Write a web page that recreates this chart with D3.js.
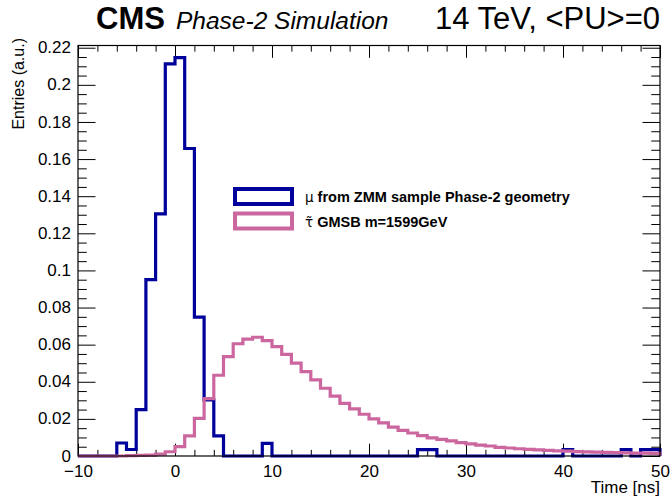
<!DOCTYPE html>
<html><head><meta charset="utf-8">
<script src="https://cdn.jsdelivr.net/npm/d3@7"></script>
<style>
body{margin:0;background:#fff}
svg{display:block}
text{font-family:"Liberation Sans",Arial,Helvetica,sans-serif}
</style>
</head><body>
<svg id="c" width="672" height="497"></svg>
<script>
// ---- data ----
const binLowEdges = d3.range(-10, 50); // 1 ns bins, -10 .. 50
const muValues = [
  0, 0, 0, 0, 0.007, 0.0035, 0.025, 0.095, 0.1305, 0.2113,
  0.2147, 0.1657, 0.0748, 0.0302, 0.0108, 0, 0, 0, 0, 0.0068,
  0, 0, 0, 0, 0, 0, 0, 0, 0, 0,
  0, 0, 0, 0, 0, 0.0034, 0.0034, 0, 0, 0,
  0, 0, 0, 0, 0, 0, 0, 0, 0, 0,
  0.0034, 0, 0, 0, 0, 0, 0.0034, 0, 0.0034, 0.0034
];
const stauValues = [
  0, 0, 0, 0, 0, 0.0002, 0.0003, 0.0005, 0.001, 0.0023,
  0.005, 0.0108, 0.0203, 0.0309, 0.0435, 0.0535, 0.0605, 0.063, 0.064, 0.0622,
  0.0589, 0.0548, 0.05, 0.0455, 0.041, 0.0365, 0.0323, 0.0284, 0.0254, 0.0225,
  0.02, 0.0178, 0.0156, 0.0138, 0.0124, 0.011, 0.0098, 0.009, 0.0081, 0.0072,
  0.0065, 0.0059, 0.0054, 0.0047, 0.0043, 0.0039, 0.0036, 0.0033, 0.003, 0.0028,
  0.0026, 0.0024, 0.0022, 0.0021, 0.0019, 0.0018, 0.0017, 0.0016, 0.0015, 0.0014
];
const xMajorTicks = [-10, 0, 10, 20, 30, 40, 50];
const yMajorTicks = [0, 0.02, 0.04, 0.06, 0.08, 0.1, 0.12, 0.14, 0.16, 0.18, 0.2, 0.22];
const seriesSymbols = ["\u03bc", "\u03c4\u0303"];
const seriesLabels = ["from ZMM sample Phase-2 geometry", "GMSB m=1599GeV"];
const seriesColors = ["#00009a", "#cc669f"];

// ---- layout ----
const L = 78, R = 660, T = 45.5, B = 456;
const x = d3.scaleLinear().domain([-10, 50]).range([L, R]);
const y = d3.scaleLinear().domain([0, 0.2212]).range([B, T]);
const svg = d3.select("#c");

svg.append("rect").attr("width", 672).attr("height", 497).attr("fill", "#fff");

// axes (ROOT style: inward ticks, mirrored)
const xMinor = d3.range(-10, 50.001, 2).filter(v => !xMajorTicks.includes(v));
const yMinor = d3.range(0, 0.2212, 0.005).filter(v => Math.abs(Math.round(v / 0.02) * 0.02 - v) > 1e-6);
const xt = 12.3, yt = 17.5;

function ticks(g, axis) { g.call(axis); g.select(".domain").remove(); g.selectAll("line").attr("stroke", "#000"); }

svg.append("g").attr("transform", `translate(0,${B})`)
  .call(g => ticks(g, d3.axisBottom(x).tickValues(xMajorTicks).tickSize(-xt).tickPadding(xt + 6)
    .tickFormat(d => d < 0 ? "\u2212" + Math.abs(d) : d)))
  .selectAll("text").attr("font-size", 17).attr("fill", "#000").attr("dy", "0.71em").attr("y", 8.5);
svg.append("g").attr("transform", `translate(0,${B})`)
  .call(g => ticks(g, d3.axisBottom(x).tickValues(xMinor).tickSize(-xt / 2).tickFormat("")));
svg.append("g").attr("transform", `translate(0,${T})`)
  .call(g => ticks(g, d3.axisTop(x).tickValues(xMajorTicks).tickSize(-xt).tickFormat("")));
svg.append("g").attr("transform", `translate(0,${T})`)
  .call(g => ticks(g, d3.axisTop(x).tickValues(xMinor).tickSize(-xt / 2).tickFormat("")));

svg.append("g").attr("transform", `translate(${L},0)`)
  .call(g => ticks(g, d3.axisLeft(y).tickValues(yMajorTicks).tickSize(-yt)
    .tickFormat(d => String(+d.toFixed(2)))))
  .selectAll("text").attr("font-size", 17).attr("fill", "#000").attr("x", -7).attr("dy", "0.3em");
svg.append("g").attr("transform", `translate(${L},0)`)
  .call(g => ticks(g, d3.axisLeft(y).tickValues(yMinor).tickSize(-yt / 2).tickFormat("")));
svg.append("g").attr("transform", `translate(${R},0)`)
  .call(g => ticks(g, d3.axisRight(y).tickValues(yMajorTicks).tickSize(-yt).tickFormat("")));
svg.append("g").attr("transform", `translate(${R},0)`)
  .call(g => ticks(g, d3.axisRight(y).tickValues(yMinor).tickSize(-yt / 2).tickFormat("")));

// histograms
function histPath(vals) {
  const pts = [[binLowEdges[0], 0]];
  vals.forEach((v, i) => pts.push([binLowEdges[i], v]));
  pts.push([binLowEdges[binLowEdges.length - 1] + 1, vals[vals.length - 1]]);
  pts.push([binLowEdges[binLowEdges.length - 1] + 1, 0]);
  return d3.line().x(d => x(d[0])).y(d => y(d[1])).curve(d3.curveStepAfter)(pts);
}
[muValues, stauValues].forEach((vals, i) => {
  svg.append("path").attr("d", histPath(vals)).attr("fill", "none")
    .attr("stroke", seriesColors[i]).attr("stroke-width", 3.2).attr("stroke-linejoin", "miter");
});

// frame
svg.append("rect").attr("x", L).attr("y", T).attr("width", R - L).attr("height", B - T)
  .attr("fill", "none").attr("stroke", "#000").attr("stroke-width", 1.2);

// legend
seriesSymbols.forEach((sym, i) => {
  const yy = 189 + i * 24.5;
  svg.append("rect").attr("x", 235).attr("y", yy).attr("width", 57).attr("height", 15)
    .attr("fill", "#fff").attr("stroke", seriesColors[i]).attr("stroke-width", 4);
  const t = svg.append("text").attr("x", 305).attr("y", yy + 13).attr("font-size", 14.5);
  t.append("tspan").attr("font-family", "'DejaVu Sans', sans-serif").attr("font-size", 13.5).text(sym);
  t.append("tspan").attr("font-weight", "bold").text(" " + seriesLabels[i]);
});

// titles
svg.append("text").attr("x", 96).attr("y", 29).attr("font-size", 31).attr("font-weight", "bold").text("CMS");
svg.append("text").attr("x", 176).attr("y", 29).attr("font-size", 24.5).attr("font-style", "italic").text("Phase-2 Simulation");
svg.append("text").attr("x", 660).attr("y", 29).attr("font-size", 31).attr("text-anchor", "end").text("14 TeV, <PU>=0");
svg.append("text").attr("x", 660).attr("y", 493).attr("font-size", 17).attr("text-anchor", "end").text("Time [ns]");
svg.append("text").attr("transform", "translate(24,38) rotate(-90)").attr("font-size", 16)
  .attr("text-anchor", "end").text("Entries (a.u.)");
</script>
</body></html>
